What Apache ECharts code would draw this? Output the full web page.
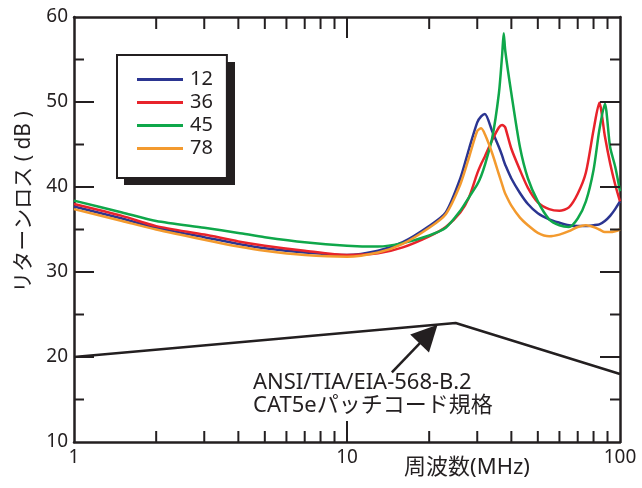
<!DOCTYPE html>
<html>
<head>
<meta charset="utf-8">
<script src="https://cdn.jsdelivr.net/npm/echarts@6/dist/echarts.min.js"></script>
<style>
  html, body { margin: 0; padding: 0; background: #fff; }
  #main { width: 642px; height: 488px; }
</style>
</head>
<body>
<div id="main"></div>
<script>
// 周波数 (MHz)
var freq = [1, 1.5, 2, 3, 4, 5, 7, 10, 13, 16, 20, 23, 26, 28, 30, 31, 32, 34, 36, 37, 37.5, 38, 40, 43, 46, 50, 55, 60, 65, 70, 75, 80, 84, 88, 92, 96, 100];

// リターンロス (dB)
var rl12 = [37.7, 36.3, 35.2, 34.1, 33.3, 32.8, 32.3, 32.0, 32.5, 33.5, 35.4, 37.0, 41.0, 44.5, 47.6, 48.3, 48.6, 46.6, 44.7, 43.7, 43.1, 42.6, 41.0, 39.3, 38.0, 36.9, 36.2, 35.8, 35.5, 35.4, 35.4, 35.5, 35.6, 36.0, 36.6, 37.4, 38.3];
var rl36 = [38.0, 36.6, 35.4, 34.4, 33.6, 33.1, 32.5, 32.0, 32.2, 32.9, 34.2, 35.3, 37.0, 38.8, 41.6, 42.7, 43.6, 45.5, 47.0, 47.3, 47.2, 47.0, 44.5, 42.0, 39.9, 38.2, 37.4, 37.2, 37.6, 39.2, 41.7, 46.7, 49.9, 46.0, 42.8, 40.3, 38.3];
var rl45 = [38.4, 37.0, 36.0, 35.2, 34.6, 34.1, 33.5, 33.1, 33.0, 33.4, 34.3, 35.2, 37.2, 38.8, 40.3, 41.3, 42.6, 45.7, 51.0, 55.5, 58.1, 56.0, 51.0, 44.7, 41.0, 38.3, 36.2, 35.5, 35.3, 36.3, 38.3, 42.0, 46.7, 49.8, 44.7, 42.4, 39.5];
var rl78 = [37.4, 36.0, 35.0, 33.8, 33.0, 32.5, 32.0, 31.8, 32.3, 33.3, 35.2, 36.8, 40.3, 43.5, 46.6, 46.9, 46.2, 44.0, 41.5, 40.3, 39.7, 39.2, 37.8, 36.4, 35.5, 34.6, 34.2, 34.4, 34.8, 35.3, 35.5, 35.3, 35.0, 34.7, 34.7, 34.8, 35.0];

// CAT5e パッチコード規格
var limitFreq = [1, 25, 100];
var limitVals = [20, 24, 18];

var seriesNames = ['12', '36', '45', '78'];
var seriesColors = ['#2b3591', '#e8232b', '#0fa74a', '#f39a2e'];

// 目盛り
var xMajorTicks = [10];
var xMinorTicks = [2, 3, 4, 5, 6, 7, 8, 9, 20, 30, 40, 50, 60, 70, 80, 90];
var yMajorTicks = [20, 30, 40, 50];
var yMinorTicks = [15, 25, 35, 45, 55];

var fontFam = '"Noto Sans", "Noto Sans CJK JP", sans-serif';
var ink = '#231f20';

function pairs(xs, ys) {
  return xs.map(function (x, i) { return [x, ys[i]]; });
}

var myChart = echarts.init(document.getElementById('main'));

// 設定を少しずつ入れる（途中で失敗しても前の分は残る）
function step(opt) {
  try { myChart.setOption(opt); } catch (e) { /* skip */ }
}

function logAxis(pos, withLabel) {
  return {
    type: 'log',
    logBase: 10,
    min: 1,
    max: 100,
    position: pos,
    axisLine: { show: true, lineStyle: { color: ink, width: 2.5 } },
    axisTick: { show: false },
    axisLabel: withLabel
      ? { show: true, color: ink, fontSize: 19, fontFamily: fontFam, margin: 6 }
      : { show: false },
    splitLine: { show: false },
    minorTick: { show: false }
  };
}

function valAxis(pos, withLabel) {
  return {
    type: 'value',
    min: 10,
    max: 60,
    interval: 10,
    position: pos,
    axisLine: { show: true, lineStyle: { color: ink, width: 2.5 } },
    axisTick: { show: false },
    minorTick: { show: false },
    axisLabel: withLabel ? { show: true, color: ink, fontSize: 19, fontFamily: fontFam, margin: 6 } : { show: false },
    splitLine: { show: false },
    minorSplitLine: { show: false }
  };
}

var dataSeries = [rl12, rl36, rl45, rl78].map(function (vals, i) {
  return {
    name: seriesNames[i],
    type: 'line',
    data: pairs(freq, vals),
    showSymbol: false,
    smooth: 0.25,
    lineStyle: { color: seriesColors[i], width: 2.5 },
    itemStyle: { color: seriesColors[i] },
    z: 3
  };
});

var limitSeries = {
  name: 'limit',
  type: 'line',
  data: pairs(limitFreq, limitVals),
  showSymbol: false,
  lineStyle: { color: ink, width: 2.5 },
  itemStyle: { color: ink },
  z: 2,
  markLine: {
    silent: true,
    symbol: ['none', 'triangle'],
    symbolSize: 26,
    lineStyle: { color: ink, width: 2.5, type: 'solid' },
    label: { show: false },
    data: [[{ coord: [14.6, 18.2] }, { coord: [19.9, 22.7] }]]
  }
};

var texts = [
  {
    type: 'rect', z: 5,
    shape: { x: 124, y: 62, width: 111, height: 123 },
    style: { fill: ink }
  },
  {
    type: 'text', x: 24, y: 202, rotation: Math.PI / 2,
    style: { text: 'リターンロス ( dB )', fill: ink, fontSize: 21, fontFamily: fontFam, textAlign: 'center', textVerticalAlign: 'middle' }
  },
  {
    type: 'text', x: 467, y: 468,
    style: { text: '周波数(MHz)', fill: ink, fontSize: 22, fontFamily: fontFam, textAlign: 'center', textVerticalAlign: 'middle' }
  },
  {
    type: 'text', x: 253, y: 383,
    style: { text: 'ANSI/TIA/EIA-568-B.2', fill: ink, fontSize: 22, fontFamily: fontFam, textAlign: 'left', textVerticalAlign: 'middle' }
  },
  {
    type: 'text', x: 253, y: 406,
    style: { text: 'CAT5eパッチコード規格', fill: ink, fontSize: 22, fontFamily: fontFam, textAlign: 'left', textVerticalAlign: 'middle' }
  }
];

step({
  animation: false,
  backgroundColor: '#fff',
  grid: { left: 74, right: 22, top: 17, bottom: 46 },
  xAxis: [logAxis('bottom', true), logAxis('top', false)],
  yAxis: [valAxis('left', true), valAxis('right', false)],
  series: dataSeries
});

step({
  legend: {
    orient: 'vertical',
    left: 117,
    top: 55,
    padding: [14, 14, 19, 20],
    itemGap: 2,
    itemWidth: 46,
    itemHeight: 3,
    icon: 'rect',
    backgroundColor: '#fff',
    borderColor: ink,
    borderWidth: 2,
    borderRadius: 0,
    z: 10,
    textStyle: { color: ink, fontSize: 20, fontFamily: fontFam, lineHeight: 21, padding: [0, 0, 0, 2] },
    data: seriesNames
  }
});

step({ series: dataSeries.concat([limitSeries]) });

step({ graphic: texts });

// 目盛り: 軸のスケールで位置を求め、細い矩形で内向きに描く
function vTick(px, y0, len) {
  return { type: 'rect', z: 6, shape: { x: px - 1, y: len > 0 ? y0 : y0 + len, width: 2, height: Math.abs(len) }, style: { fill: ink } };
}
function hTick(py, x0, len) {
  return { type: 'rect', z: 6, shape: { x: len > 0 ? x0 : x0 + len, y: py - 1, width: Math.abs(len), height: 2 }, style: { fill: ink } };
}

try {
  var yBottom = myChart.convertToPixel({ yAxisIndex: 0 }, 10);
  var yTop = myChart.convertToPixel({ yAxisIndex: 0 }, 60);
  var xLeft = myChart.convertToPixel({ xAxisIndex: 0 }, 1);
  var xRight = myChart.convertToPixel({ xAxisIndex: 0 }, 100);
  var ticks = [];
  xMajorTicks.forEach(function (f) {
    var px = myChart.convertToPixel({ xAxisIndex: 0 }, f);
    ticks.push(vTick(px, yBottom, -21), vTick(px, yTop, 21));
  });
  xMinorTicks.forEach(function (f) {
    var px = myChart.convertToPixel({ xAxisIndex: 0 }, f);
    ticks.push(vTick(px, yBottom, -11), vTick(px, yTop, 12));
  });
  yMajorTicks.forEach(function (v) {
    var py = myChart.convertToPixel({ yAxisIndex: 0 }, v);
    ticks.push(hTick(py, xLeft, 20), hTick(py, xRight, -20));
  });
  yMinorTicks.forEach(function (v) {
    var py = myChart.convertToPixel({ yAxisIndex: 0 }, v);
    ticks.push(hTick(py, xLeft, 10), hTick(py, xRight, -10));
  });
  step({ graphic: texts.concat(ticks) });
} catch (e) { /* skip */ }
</script>
</body>
</html>
